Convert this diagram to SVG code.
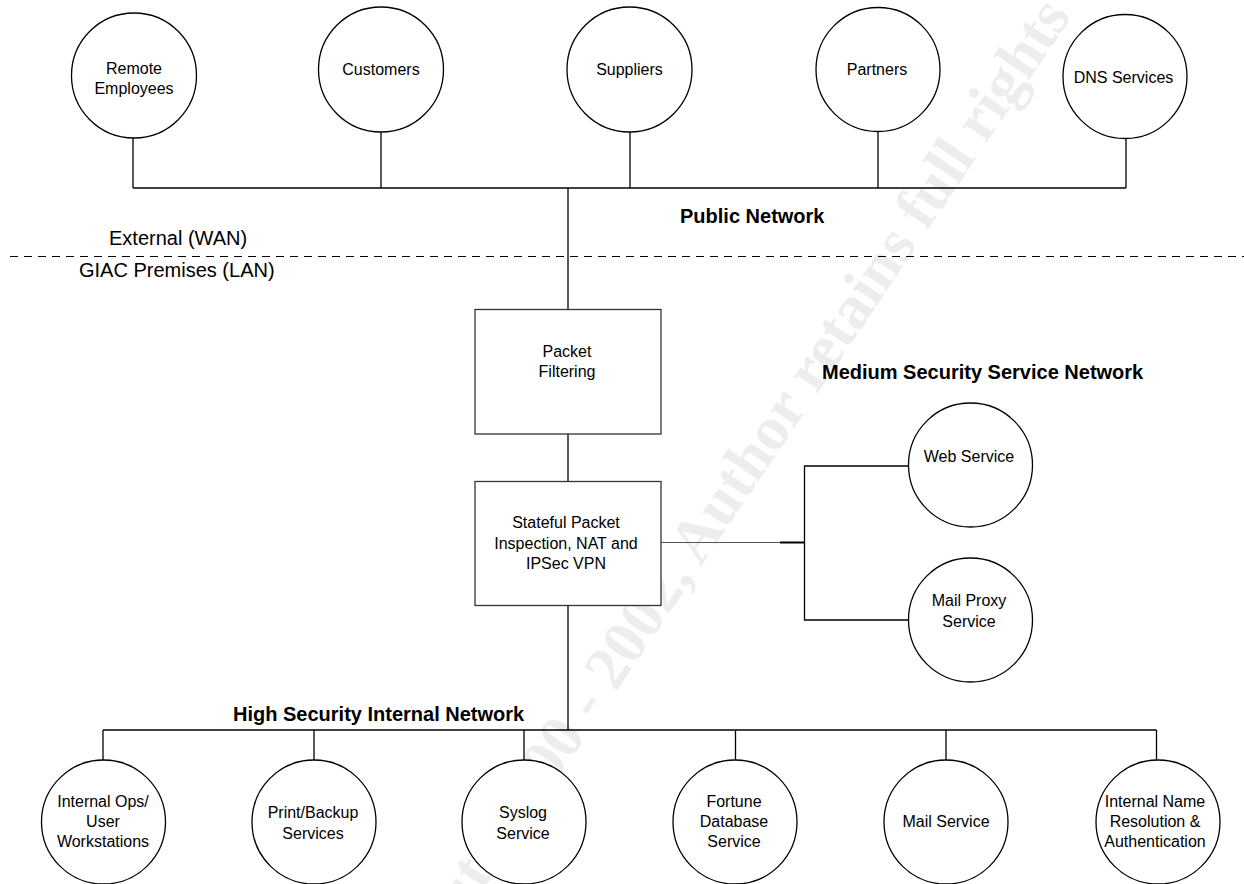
<svg xmlns="http://www.w3.org/2000/svg" width="1244" height="884" viewBox="0 0 1244 884">
<style>
.n{fill:#fff;stroke:#000;stroke-width:1.3}
.b{fill:#fff;stroke:#333;stroke-width:1.3}
.t{font-family:"Liberation Sans",Arial,sans-serif;font-size:16px;fill:#000;text-anchor:middle}
.h{font-family:"Liberation Sans",Arial,sans-serif;font-size:20px;font-weight:bold;fill:#000}
.z{font-family:"Liberation Sans",Arial,sans-serif;font-size:20px;fill:#000}
.c line,.c polyline{stroke:#000;stroke-width:1.3;fill:none}
.wm{font-family:"Liberation Serif","Times New Roman",serif;font-size:62px;font-weight:bold;fill:#ededed}
</style>
<rect width="1244" height="884" fill="#fff"/>
<text class="wm" transform="translate(1072,16) rotate(-56)" text-anchor="end">© SANS Institute 2000 - 2002, Author retains full rights</text>
<g class="c" id="connectors">
<line x1="133" y1="188" x2="1126" y2="188"/>
<line x1="133" y1="138" x2="133" y2="188"/>
<line x1="381" y1="132" x2="381" y2="188"/>
<line x1="630" y1="132" x2="630" y2="188"/>
<line x1="878" y1="132" x2="878" y2="188"/>
<line x1="1126" y1="139" x2="1126" y2="188"/>
<line x1="568" y1="188" x2="568" y2="309"/>
<line x1="568" y1="434" x2="568" y2="481"/>
<line x1="568" y1="605" x2="568" y2="730"/>
<line x1="661" y1="542.5" x2="780" y2="542.5" style="stroke:#555;stroke-width:1"/>
<line x1="780" y1="542.5" x2="804" y2="542.5" style="stroke-width:2"/>
<polyline points="909,466 804.5,466 804.5,620 909,620"/>
<line x1="103" y1="730" x2="1156.5" y2="730"/>
<line x1="103" y1="730" x2="103" y2="760"/>
<line x1="314" y1="730" x2="314" y2="760"/>
<line x1="524" y1="730" x2="524" y2="760"/>
<line x1="735.5" y1="730" x2="735.5" y2="760"/>
<line x1="946" y1="730" x2="946" y2="760"/>
<line x1="1156.5" y1="730" x2="1156.5" y2="760"/>
<line x1="10" y1="256.5" x2="1244" y2="256.5" style="stroke-width:1;stroke-dasharray:8 6"/>
</g>
<g id="labels">
<text class="h" x="680" y="222.5">Public Network</text>
<text class="z" x="109" y="245">External (WAN)</text>
<text class="z" x="79" y="277">GIAC Premises (LAN)</text>
<text class="h" x="822" y="379">Medium Security Service Network</text>
<text class="h" x="233" y="720.5">High Security Internal Network</text>
</g>
<g id="remote-employees"><circle class="n" cx="134" cy="75.5" r="62.5"/><text class="t" x="134" y="73.5">Remote</text><text class="t" x="134" y="94">Employees</text></g>
<g id="customers"><circle class="n" cx="381" cy="69.5" r="62.5"/><text class="t" x="381" y="75">Customers</text></g>
<g id="suppliers"><circle class="n" cx="629.5" cy="69.5" r="62.5"/><text class="t" x="629.5" y="74.5">Suppliers</text></g>
<g id="partners"><circle class="n" cx="878" cy="69.5" r="62"/><text class="t" x="877" y="74.5">Partners</text></g>
<g id="dns-services"><circle class="n" cx="1125" cy="76.5" r="62"/><text class="t" x="1123.5" y="83">DNS Services</text></g>
<g id="packet-filtering"><rect class="b" x="475" y="309.5" width="186" height="124.5"/><text class="t" x="567" y="356.5">Packet</text><text class="t" x="567" y="377">Filtering</text></g>
<g id="stateful-inspection"><rect class="b" x="475" y="481.5" width="186" height="124"/><text class="t" x="566" y="527.5">Stateful Packet</text><text class="t" x="566" y="548.5">Inspection, NAT and</text><text class="t" x="566" y="568.5">IPSec VPN</text></g>
<g id="web-service"><circle class="n" cx="970.5" cy="465" r="62"/><text class="t" x="969" y="462">Web Service</text></g>
<g id="mail-proxy"><circle class="n" cx="970.5" cy="620" r="62"/><text class="t" x="969" y="606">Mail Proxy</text><text class="t" x="969" y="626.5">Service</text></g>
<g id="internal-ops"><circle class="n" cx="103.5" cy="822" r="62"/><text class="t" x="103" y="806.5">Internal Ops/</text><text class="t" x="103" y="826.5">User</text><text class="t" x="103" y="846.5">Workstations</text></g>
<g id="print-backup"><circle class="n" cx="314" cy="822" r="62"/><text class="t" x="313" y="818">Print/Backup</text><text class="t" x="313" y="838.5">Services</text></g>
<g id="syslog"><circle class="n" cx="524" cy="822" r="62"/><text class="t" x="523" y="818">Syslog</text><text class="t" x="523" y="838.5">Service</text></g>
<g id="fortune-db"><circle class="n" cx="735" cy="822" r="62"/><text class="t" x="734" y="806.5">Fortune</text><text class="t" x="734" y="826.5">Database</text><text class="t" x="734" y="846.5">Service</text></g>
<g id="mail-service"><circle class="n" cx="946" cy="822" r="62"/><text class="t" x="946" y="826.5">Mail Service</text></g>
<g id="internal-name"><circle class="n" cx="1158" cy="822" r="62"/><text class="t" x="1155" y="806.5">Internal Name</text><text class="t" x="1155" y="826.5">Resolution &amp;</text><text class="t" x="1155" y="846.5">Authentication</text></g>
</svg>
